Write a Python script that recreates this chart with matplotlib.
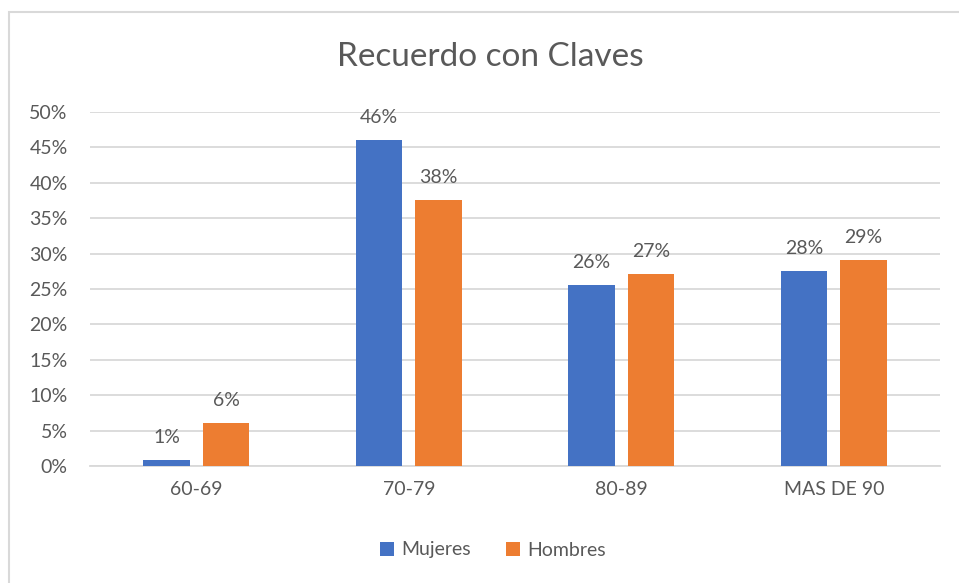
import matplotlib
matplotlib.use("Agg")
import matplotlib.pyplot as plt
from matplotlib.patches import Rectangle
import numpy as np

# data
categories = ["60-69", "70-79", "80-89", "MAS DE 90"]
mujeres = [0.9, 46.0, 25.6, 27.6]
hombres = [6.1, 37.6, 27.1, 29.1]
yticks = [0, 5, 10, 15, 20, 25, 30, 35, 40, 45, 50]

blue = "#4472C4"
orange = "#ED7D31"
text_gray = "#595959"
grid_gray = "#D9D9D9"

plt.rcParams["font.family"] = ["Lato", "DejaVu Sans"]

fig = plt.figure(figsize=(9.59, 5.83), dpi=100)
ax = fig.add_axes([90 / 959, 1 - 466 / 583, 850 / 959, 354 / 583])

# outer chart border (partly cut off like the screenshot)
fig.patches.append(Rectangle((9 / 959, -0.1), 1.2, 1 - 12 / 583 + 0.1,
                             transform=fig.transFigure, fill=False,
                             edgecolor=grid_gray, linewidth=1.5))

x = np.arange(len(categories))
w = 0.22
off = 0.14
b1 = ax.bar(x - off, mujeres, w, color=blue, label="Mujeres", zorder=3)
b2 = ax.bar(x + off, hombres, w, color=orange, label="Hombres", zorder=3)

for bars, vals in ((b1, mujeres), (b2, hombres)):
    for bar, v in zip(bars, vals):
        ax.annotate(f"{int(v + 0.5)}%", (bar.get_x() + bar.get_width() / 2, v),
                    xytext=(0, 10), textcoords="offset points",
                    ha="center", va="bottom", fontsize=14, color=text_gray)

ax.set_xlim(-0.5, len(categories) - 0.5)
ax.set_ylim(0, 50)
ax.set_yticks(yticks)
ax.set_yticklabels([f"{t}%" for t in yticks])
ax.set_xticks(x)
ax.set_xticklabels(categories)
ax.tick_params(axis="y", length=0, pad=16, labelsize=14, labelcolor=text_gray)
ax.tick_params(axis="x", length=0, pad=11, labelsize=14, labelcolor=text_gray)
ax.grid(axis="y", color=grid_gray, linewidth=1.3, zorder=0)
for s in ["top", "right", "left"]:
    ax.spines[s].set_visible(False)
ax.spines["bottom"].set_color(grid_gray)
ax.spines["bottom"].set_linewidth(1.3)

fig.text(490 / 959, 1 - 57 / 583, "Recuerdo con Claves", ha="center", va="center",
         fontsize=24, color=text_gray)

fig.legend(handles=[b1, b2], loc="center", bbox_to_anchor=(493 / 959, 1 - 550 / 583),
           ncol=2, frameon=False, fontsize=14, labelcolor=text_gray,
           handlelength=0.7, handleheight=0.7, handletextpad=0.4, columnspacing=1.8)

fig.savefig("out.png", dpi=100)
